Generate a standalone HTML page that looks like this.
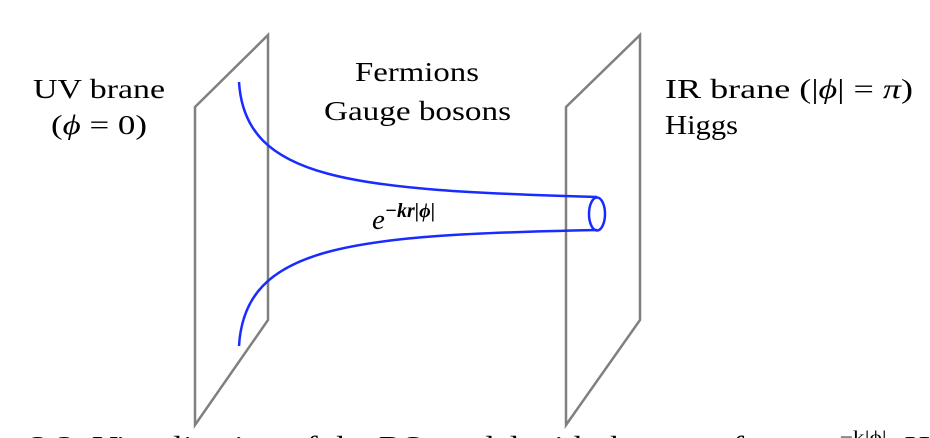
<!DOCTYPE html>
<html><head><meta charset="utf-8"><style>
html,body{margin:0;padding:0;background:#fff;width:930px;height:438px;overflow:hidden;}
svg{display:block;overflow:hidden;}
text{font-family:"Liberation Serif",serif;fill:#000;}
</style></head><body>
<svg width="930" height="438" viewBox="0 0 930 438">
<polygon points="195,107 268,35 268,320 195,425" fill="none" stroke="#808080" stroke-width="2.5"/>
<polygon points="566,107 640,35 640,320 566,425" fill="none" stroke="#808080" stroke-width="2.5"/>
<path d="M239,82 C245,180 350,190 597,197" fill="none" stroke="#1a2bff" stroke-width="2.5"/>
<path d="M239,346 C245,245 350,235 597,230" fill="none" stroke="#1a2bff" stroke-width="2.5"/>
<ellipse cx="597" cy="214" rx="8" ry="16.5" fill="none" stroke="#1a2bff" stroke-width="2.5"/>
<text x="33" y="98" font-size="27" textLength="132" lengthAdjust="spacingAndGlyphs">UV brane</text>
<text x="51" y="134" font-size="27" textLength="96" lengthAdjust="spacingAndGlyphs">(<tspan font-style="italic">ϕ</tspan> = 0)</text>
<text x="355" y="81" font-size="27" textLength="124" lengthAdjust="spacingAndGlyphs">Fermions</text>
<text x="324" y="120" font-size="27" textLength="187" lengthAdjust="spacingAndGlyphs">Gauge bosons</text>
<text x="665" y="98" font-size="27" textLength="248" lengthAdjust="spacingAndGlyphs">IR brane (|<tspan font-style="italic">ϕ</tspan>| = <tspan font-style="italic">π</tspan>)</text>
<text x="665" y="134" font-size="27" textLength="73" lengthAdjust="spacingAndGlyphs">Higgs</text>
<text x="372" y="229" font-size="29" font-style="italic">e<tspan dy="-12" font-size="20" font-weight="bold" font-family="Liberation Serif, serif">−kr|ϕ|</tspan></text>
<text x="30" y="455" font-size="27" textLength="900" lengthAdjust="spacingAndGlyphs">2.2: Visualization of the RS model with the warp factor e<tspan font-size="18" dy="-12">−k|ϕ|</tspan><tspan dy="12">. H</tspan></text>
</svg>
</body></html>
